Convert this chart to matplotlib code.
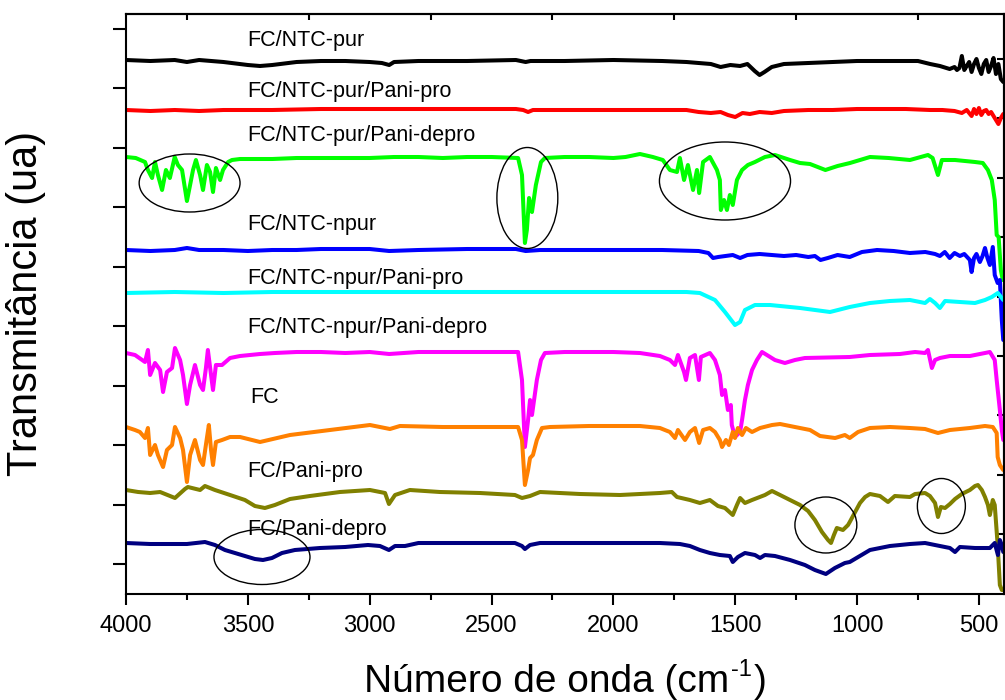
import matplotlib
matplotlib.use('Agg')
import matplotlib.pyplot as plt
from matplotlib.patches import Ellipse
import numpy as np

plt.rcParams['font.family'] = ['Liberation Sans', 'DejaVu Sans']

# ---------------- data (wavenumber, transmittance a.u.) ----------------
labels = ["FC/NTC-pur", "FC/NTC-pur/Pani-pro", "FC/NTC-pur/Pani-depro",
          "FC/NTC-npur", "FC/NTC-npur/Pani-pro", "FC/NTC-npur/Pani-depro",
          "FC", "FC/Pani-pro", "FC/Pani-depro"]
colors = ["#000000", "#ff0000", "#00ff00", "#0000ff", "#00ffff",
          "#ff00ff", "#ff8000", "#808000", "#000080"]

black_x = [4000, 3900, 3800, 3750, 3700, 3600, 3500, 3450, 3400, 3300, 3200, 3100, 3000, 2950, 2920,
           2900, 2800, 2600, 2400, 2360, 2340, 2200, 2000, 1800, 1700, 1650, 1600, 1560, 1520, 1480,
           1450, 1420, 1400, 1380, 1350, 1300, 1200, 1100, 1000, 900, 800, 750, 700, 660, 620, 600,
           590, 580, 570, 560, 550, 540, 530, 520, 510, 500, 490, 480, 470, 460, 450, 440, 430, 420,
           410, 400]
black_y = [534, 533, 534, 532, 534, 532, 529, 528, 529, 532, 533, 533, 532, 531, 529,
           532, 533, 533, 534, 532, 533, 533, 534, 533, 532, 531, 530, 527, 529, 528,
           530, 523, 519, 522, 527, 530, 531, 532, 533, 533, 533, 533, 530, 528, 525, 527,
           524, 526, 538, 524, 528, 532, 522, 530, 535, 526, 520, 530, 534, 522, 528, 536, 520, 530,
           515, 512]

red_x = [4000, 3900, 3800, 3700, 3600, 3500, 3400, 3200, 3000, 2800, 2600, 2400, 2370, 2350, 2330,
         2200, 2000, 1800, 1700, 1650, 1600, 1560, 1530, 1500, 1470, 1440, 1400, 1350, 1300, 1200,
         1100, 1000, 900, 800, 700, 650, 600, 570, 550, 530, 520, 510, 500, 490, 480, 470, 460, 450,
         440, 430, 420, 410, 400]
red_y = [484, 483, 484, 483, 484, 484, 484, 485, 485, 485, 485, 485, 484, 482, 484,
         484, 484, 484, 484, 482, 481, 482, 479, 477, 481, 480, 482, 481, 483, 484,
         484, 485, 485, 485, 484, 484, 483, 481, 484, 478, 485, 480, 486, 479, 483, 484, 480, 482,
         478, 474, 470, 476, 480]

green_x = [4000, 3960, 3922, 3910, 3893, 3881, 3869, 3852, 3836, 3820, 3800, 3787, 3770, 3750, 3737,
           3725, 3713, 3696, 3684, 3668, 3655, 3643, 3631, 3614, 3602, 3581, 3565, 3532, 3450, 3400,
           3300, 3200, 3100, 3000, 2900, 2800, 2700, 2600, 2500, 2391, 2375, 2363, 2355, 2346, 2334,
           2318, 2297, 2281, 2200, 2100, 2000, 1950, 1891, 1838, 1797, 1768, 1739, 1727, 1710, 1694,
           1673, 1657, 1648, 1632, 1604, 1575, 1563, 1559, 1546, 1534, 1522, 1510, 1493, 1472, 1448,
           1419, 1378, 1337, 1275, 1234, 1193, 1130, 1080, 1029, 947, 870, 783, 709, 690, 668,
           652, 598, 516, 484, 463, 447, 435, 427, 419, 410, 402]
green_y = [437, 436, 432, 424, 416, 432, 419, 404, 424, 416, 437, 429, 424, 393, 409,
           424, 434, 419, 404, 429, 422, 402, 426, 414, 424, 432, 434, 435, 435, 435,
           436, 436, 436, 436, 437, 437, 436, 437, 437, 436, 419, 351, 364, 396, 382,
           409, 432, 436, 437, 437, 436, 437, 440, 437, 434, 424, 422, 436, 414, 429,
           404, 424, 401, 432, 437, 424, 414, 384, 394, 384, 399, 389, 414, 424, 429,
           432, 437, 439, 434, 431, 430, 424, 428, 431, 437, 436, 434, 439, 436, 419,
           434, 434, 432, 431, 424, 414, 394, 359, 357, 324, 314]

blue_x = [4000, 3900, 3800, 3750, 3700, 3600, 3500, 3400, 3300, 3200, 3000, 2920, 2800, 2600, 2400,
          2360, 2300, 2000, 1800, 1650, 1610, 1591, 1570, 1540, 1510, 1480, 1450, 1400, 1350, 1300,
          1250, 1200, 1173, 1150, 1120, 1080, 1030, 980, 918, 850, 783, 720, 680, 660, 640, 620,
          600, 578, 560, 537, 530, 520, 510, 496, 485, 475, 465, 455, 443, 435, 423, 414, 406, 400]
blue_y = [344, 343, 344, 346, 344, 344, 343, 344, 344, 345, 345, 343, 344, 345, 345,
          343, 344, 344, 344, 343, 341, 336, 337, 338, 339, 336, 339, 340, 339, 338,
          339, 337, 338, 334, 336, 339, 337, 342, 344, 343, 341, 342, 340, 338, 342, 336,
          341, 338, 340, 334, 322, 336, 340, 332, 338, 346, 336, 329, 347, 319, 311, 314, 274, 254]

cyan_x = [4000, 3800, 3600, 3400, 3200, 3000, 2800, 2600, 2400, 2200, 2000, 1800, 1700, 1645, 1583,
          1542, 1501, 1480, 1460, 1419, 1357, 1234, 1111, 1030, 947, 865, 783, 721, 701, 680,
          660, 639, 578, 516, 475, 447, 422, 406, 400]
cyan_y = [301, 302, 301, 302, 302, 302, 302, 302, 302, 302, 302, 302, 302, 301, 294,
          282, 269, 272, 284, 289, 289, 286, 282, 287, 291, 293, 294, 291, 295, 291,
          286, 293, 292, 291, 294, 297, 301, 296, 294]

magenta_x = [4000, 3963, 3922, 3910, 3901, 3881, 3860, 3848, 3832, 3811, 3799, 3778, 3766, 3750, 3737,
             3717, 3696, 3684, 3672, 3664, 3651, 3643, 3631, 3606, 3573, 3532, 3450, 3389, 3300, 3200,
             3100, 3000, 2920, 2800, 2600, 2400, 2391, 2375, 2363, 2350, 2342, 2334, 2314, 2297, 2281,
             2200, 2000, 1891, 1809, 1768, 1747, 1735, 1710, 1702, 1686, 1665, 1649, 1641, 1604, 1583,
             1563, 1554, 1542, 1530, 1518, 1514, 1501, 1480, 1472, 1460, 1448, 1431, 1411, 1390, 1370,
             1337, 1296, 1255, 1214, 1030, 947, 824, 762, 721, 709, 693, 680, 660, 619, 537,
             475, 455, 435, 427, 414, 406, 400]
magenta_y = [241, 239, 232, 244, 219, 231, 224, 202, 222, 226, 246, 234, 219, 190, 209,
             229, 209, 204, 226, 244, 219, 204, 229, 229, 236, 238, 240, 241, 242, 242,
             241, 242, 240, 242, 242, 242, 242, 214, 147, 174, 194, 179, 214, 234, 241,
             242, 242, 241, 238, 234, 229, 239, 222, 214, 236, 239, 214, 237, 241, 234,
             219, 199, 204, 184, 189, 169, 157, 162, 174, 194, 209, 224, 234, 242, 239,
             234, 231, 234, 236, 237, 239, 240, 242, 241, 244, 226, 234, 236, 238, 238,
             241, 242, 234, 214, 184, 164, 154]

orange_x = [4000, 3963, 3943, 3922, 3910, 3901, 3881, 3869, 3848, 3832, 3811, 3799, 3778, 3766, 3750,
            3737, 3717, 3696, 3684, 3668, 3660, 3651, 3643, 3631, 3606, 3573, 3532, 3450, 3327, 3163,
            2999, 2917, 2876, 2700, 2500, 2391, 2375, 2363, 2350, 2342, 2330, 2314, 2293, 2260, 2100,
            1891, 1809, 1768, 1747, 1735, 1706, 1686, 1665, 1648, 1632, 1604, 1583, 1563, 1554, 1538,
            1526, 1510, 1501, 1489, 1472, 1456, 1431, 1398, 1349, 1316, 1255, 1193, 1152, 1090, 1050,
            1030, 996, 947, 865, 783, 721, 668, 619, 537, 475, 443, 427, 423, 414, 400]
orange_y = [167, 164, 162, 156, 166, 139, 149, 139, 127, 144, 149, 167, 156, 144, 112,
            139, 154, 134, 129, 156, 169, 144, 129, 152, 154, 157, 157, 152, 159, 164,
            169, 165, 168, 167, 167, 167, 154, 109, 124, 136, 139, 154, 166, 167, 168,
            168, 166, 162, 156, 164, 154, 162, 166, 151, 164, 166, 162, 154, 147, 154,
            149, 162, 156, 166, 159, 166, 162, 166, 169, 170, 167, 164, 158, 156, 159,
            156, 162, 166, 167, 166, 165, 161, 164, 166, 168, 167, 161, 137, 129, 124]

olive_x = [4000, 3950, 3901, 3860, 3799, 3758, 3746, 3696, 3676, 3635, 3573, 3512, 3471, 3430, 3389,
           3327, 3245, 3122, 2999, 2937, 2921, 2896, 2835, 2712, 2547, 2404, 2375, 2342, 2301, 2137,
           1973, 1809, 1760, 1739, 1686, 1645, 1604, 1571, 1542, 1510, 1493, 1480, 1460, 1431, 1378,
           1349, 1316, 1275, 1234, 1201, 1173, 1144, 1119, 1107, 1095, 1083, 1058, 1037, 1030, 988,
           967, 947, 906, 873, 845, 783, 762, 721, 701, 680, 668, 656, 639, 619, 598,
           570, 537, 516, 504, 488, 475, 463, 455, 443, 435, 423, 414, 406, 400]
olive_y = [104, 102, 101, 102, 96, 105, 107, 104, 108, 104, 99, 94, 88, 86, 89,
           95, 98, 102, 104, 101, 90, 99, 104, 102, 101, 99, 96, 98, 102, 100,
           99, 101, 102, 97, 94, 91, 94, 88, 86, 79, 89, 96, 91, 94, 99,
           103, 99, 94, 89, 83, 74, 62, 54, 51, 59, 66, 64, 69, 72, 91,
           97, 100, 98, 92, 98, 97, 100, 101, 98, 91, 77, 87, 86, 90, 95,
           100, 104, 108, 109, 104, 97, 89, 79, 94, 89, 49, 9, 4, 4]

navy_x = [4000, 3901, 3750, 3676, 3635, 3594, 3553, 3512, 3471, 3438, 3401, 3360, 3307, 3204, 3101,
          3007, 2958, 2921, 2896, 2855, 2800, 2500, 2404, 2375, 2363, 2342, 2301, 2055, 1809, 1727,
          1686, 1645, 1604, 1563, 1522, 1510, 1489, 1460, 1419, 1398, 1378, 1337, 1275, 1214, 1173,
          1128, 1091, 1050, 1030, 947, 865, 783, 721, 660, 619, 598, 578, 516, 455, 435,
          422, 414, 406, 400]
navy_y = [51, 50, 50, 52, 49, 44, 41, 38, 35, 34, 36, 41, 44, 46, 47,
          49, 48, 44, 48, 48, 51, 51, 51, 48, 45, 49, 51, 51, 51, 50,
          48, 44, 41, 39, 38, 32, 37, 41, 39, 36, 39, 38, 34, 29, 24,
          20, 26, 31, 32, 44, 48, 50, 51, 48, 46, 42, 47, 46, 46, 51,
          39, 54, 49, 42]

series_x = [black_x, red_x, green_x, blue_x, cyan_x, magenta_x, orange_x, olive_x, navy_x]
series_y = [black_y, red_y, green_y, blue_y, cyan_y, magenta_y, orange_y, olive_y, navy_y]

# label anchor (wavenumber, baseline height)
label_x = [3503, 3503, 3503, 3503, 3503, 3503, 3491, 3503, 3503]
label_y = [548, 497, 453, 364, 310, 261, 191, 117, 59]

# highlighted regions: (center wn, center y, width wn, height)
ell_cx = [3739, 2353, 1542, 3442, 1128, 654]
ell_cy = [411, 396, 413, 37, 69, 88]
ell_w = [414, 250, 538, 394, 254, 197]
ell_h = [58, 101, 78, 55, 56, 55]

xticks_major = [4000, 3500, 3000, 2500, 2000, 1500, 1000, 500]
xticks_minor = [3750, 3250, 2750, 2250, 1750, 1250, 750]

# ---------------- figure ----------------
W, H = 1005, 700
fig = plt.figure(figsize=(W / 100, H / 100), dpi=100)
ax = fig.add_axes([126 / W, 106 / H, 878 / W, 580 / H])

for xs, ys, c in zip(series_x, series_y, colors):
    ax.plot(xs, ys, color=c, lw=2.9, solid_joinstyle='round', solid_capstyle='round')

for lx, ly, t in zip(label_x, label_y, labels):
    ax.text(lx, ly, t, fontsize=15.5, va='baseline', ha='left', color='black')

for cx, cy, w, h in zip(ell_cx, ell_cy, ell_w, ell_h):
    ax.add_patch(Ellipse((cx, cy), w, h, fill=False, edgecolor='black', lw=1.0, zorder=5))

ax.set_xlim(4000, 397)
ax.set_ylim(0, 580)

for s in ax.spines.values():
    s.set_linewidth(1.5)

ax.set_xticks(xticks_major)
ax.set_xticks(xticks_minor, minor=True)
ax.tick_params(axis='x', which='major', direction='out', length=8, width=1.5,
               labelsize=17, pad=7)
ax.tick_params(axis='x', which='minor', direction='out', length=4.5, width=1.5)

ytick_pos = np.arange(30, 570, 59.44)
ax.set_yticks(ytick_pos)
ax.set_yticklabels([])
ax.tick_params(axis='y', which='major', direction='out', length=9.5, width=1.5)

# top and right axes with inward ticks at intermediate positions
top = ax.secondary_xaxis('top')
top.set_xticks(xticks_minor)
top.set_xticklabels([])
top.tick_params(direction='in', length=4.5, width=1.5)
top.spines['top'].set_linewidth(1.5)

right = ax.secondary_yaxis('right')
right.set_yticks(ytick_pos[:-1] + 29.72)
right.set_yticklabels([])
right.tick_params(direction='in', length=5, width=1.5)
right.spines['right'].set_linewidth(1.5)

# x label built from pieces so the superscript uses a plain hyphen
fig.canvas.draw()
renderer = fig.canvas.get_renderer()
base_y = (H - 692) / H
xl_size = 28
t1 = fig.text(0, base_y, "Número de onda (cm", fontsize=xl_size, ha='left', va='baseline')
t2 = fig.text(0, base_y + 16 / H, "-1", fontsize=17, ha='left', va='baseline')
t3 = fig.text(0, base_y, ")", fontsize=xl_size, ha='left', va='baseline')
w1 = t1.get_window_extent(renderer).width
w2 = t2.get_window_extent(renderer).width
w3 = t3.get_window_extent(renderer).width
total = w1 + 2 + w2 + 2 + w3
x0 = 565 - total / 2
t1.set_x(x0 / W)
t2.set_x((x0 + w1 + 2) / W)
t3.set_x((x0 + w1 + 2 + w2 + 2) / W)

fig.text(26 / W, (H - 303) / H, "Transmitância (ua)", fontsize=30,
         rotation=90, ha='center', va='center')

fig.savefig("out.png", dpi=100)
